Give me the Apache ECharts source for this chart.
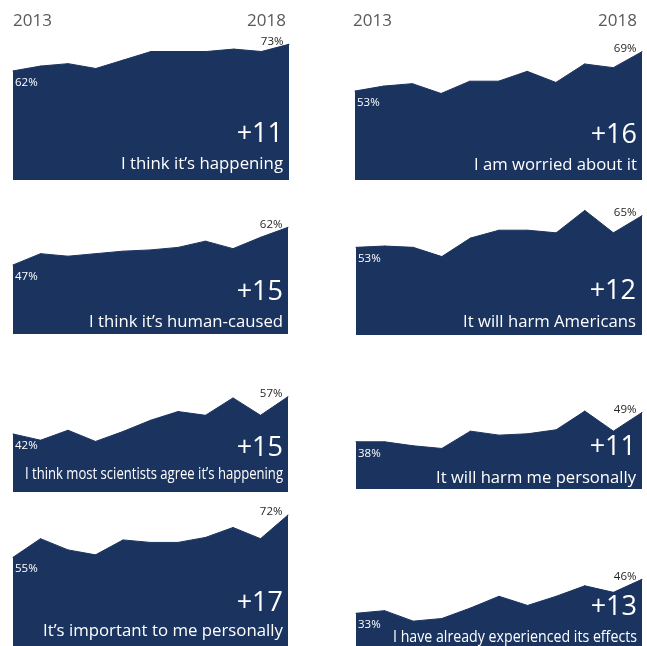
<!DOCTYPE html>
<html>
<head>
<meta charset="utf-8">
<style>
  html, body { margin: 0; padding: 0; background: #ffffff; }
  #chart { width: 647px; height: 646px; }
</style>
<script src="https://cdn.jsdelivr.net/npm/echarts@6/dist/echarts.min.js"></script>
</head>
<body>
<div id="chart"></div>
<script>
// ---- data ----
const waves = ['W1','W2','W3','W4','W5','W6','W7','W8','W9','W10','W11'];
const yearLabels = ['2013', '2018'];
const happening     = [62, 64, 65, 63, 66.5, 70, 70, 70, 71, 70, 73];
const worried       = [53, 55, 56, 52, 57, 57, 61, 56.5, 64, 62.5, 69];
const humanCaused   = [47, 51.5, 50.5, 51.5, 52.5, 53, 54, 56.5, 53.5, 58, 62];
const harmAmericans = [53, 53.5, 53, 49.5, 56.5, 59.5, 59.5, 58.5, 67, 58.5, 65];
const scientists    = [42, 39.5, 43.5, 39, 43, 47.5, 51, 49.5, 56.5, 49.5, 57];
const harmMe        = [38, 38, 36.5, 35.5, 42, 40.5, 41, 42.5, 49.5, 42, 49];
const important     = [55, 62.5, 58, 56, 62, 61, 61, 63, 67, 62.5, 72];
const experienced   = [33, 34, 30, 31, 35, 39.5, 36, 39.5, 43.5, 41, 46];
const descriptions = [
  'I think it\u2019s happening',
  'I am worried about it',
  'I think it\u2019s human-caused',
  'It will harm Americans',
  'I think most scientists agree it\u2019s happening',
  'It will harm me personally',
  'It\u2019s important to me personally',
  'I have already experienced its effects'
];
const seriesValues = [happening, worried, humanCaused, harmAmericans, scientists, harmMe, important, experienced];

// ---- layout (positions / scales only) ----
// left, right, top, bottom, pxPerPct, valueAtBottom, numberCenterY, descCenterY, textRight, descLeft
const layout = [
  [13, 289, 30, 180, 2.424, 17.0, 134.5, 164, 283, 121],
  [355, 642, 30, 180, 2.458, 16.8, 135, 165.5, 637, 474],
  [13, 288, 195, 334, 2.51, 19.5, 292.5, 322.5, 283, 89],
  [356, 642, 195, 335, 2.64, 19.8, 291, 322, 636, 463],
  [13, 288, 370, 492, 2.49, 18.7, 448, 474.5, 283, 25],
  [356, 642, 370, 489, 2.667, 20.3, 447, 478, 636, 436],
  [13, 288, 505, 646, 2.49, 19.4, 603.5, 631.5, 283, 43],
  [356, 642, 505, 646, 2.617, 20.5, 607.5, 637.5, 637, 393]
];
const NAVY = '#1b345f';
const FONT = '"Open Sans", "Noto Sans", sans-serif';
const DESC_FONT = '17px ' + FONT;

const measureCtx = document.createElement('canvas').getContext('2d');
measureCtx.font = DESC_FONT;

const grids = [], xAxes = [], yAxes = [], series = [], graphics = [];
layout.forEach((L, i) => {
  const [left, right, top, bottom, s, vb] = L;
  const h = bottom - top;
  grids.push({ left: left, top: top, width: right - left, height: h });
  xAxes.push({ type: 'category', gridIndex: i, data: waves, boundaryGap: false, show: false });
  yAxes.push({ type: 'value', gridIndex: i, min: vb, max: vb + h / s, show: false });
  const vals = seriesValues[i];
  const last = vals.length - 1;
  series.push({
    type: 'line', xAxisIndex: i, yAxisIndex: i, silent: true,
    symbol: 'circle', symbolSize: 1, showSymbol: true,
    itemStyle: { color: NAVY },
    lineStyle: { color: NAVY, width: 1 },
    areaStyle: { color: NAVY, opacity: 1, origin: 'start' },
    label: { show: false, fontFamily: FONT, fontSize: 11.5, formatter: p => p.value + '%' },
    data: vals.map((v, j) => {
      if (j === 0) return { value: v, label: { show: true, position: 'bottom', align: 'left', color: '#ffffff', distance: 5, offset: [2, 0] } };
      if (j === last) return { value: v, label: { show: true, position: 'left', color: '#262626', distance: 5, offset: [0, -3] } };
      return { value: v };
    })
  });
  const diff = vals[last] - vals[0];
  graphics.push({
    type: 'text', x: L[8], y: L[6], silent: true, z: 100,
    style: { text: (diff >= 0 ? '+' : '') + diff, fill: '#ffffff', font: '27px ' + FONT, align: 'right', verticalAlign: 'middle' }
  });
  const w = measureCtx.measureText(descriptions[i]).width;
  const target = L[8] - L[9];
  const sx = Math.min(1.02, target / w);
  graphics.push({
    type: 'text', x: L[8], y: L[7], silent: true, z: 100, scaleX: sx,
    style: { text: descriptions[i], fill: '#ffffff', font: DESC_FONT, align: 'right', verticalAlign: 'middle' }
  });
});
// year labels on top row
[[13, 286], [353, 637]].forEach(([l, r]) => {
  graphics.push({ type: 'text', x: l, y: 21, silent: true, z: 100,
    style: { text: yearLabels[0], fill: '#595959', font: '17px ' + FONT, align: 'left', verticalAlign: 'middle' } });
  graphics.push({ type: 'text', x: r, y: 21, silent: true, z: 100,
    style: { text: yearLabels[1], fill: '#595959', font: '17px ' + FONT, align: 'right', verticalAlign: 'middle' } });
});

const chart = echarts.init(document.getElementById('chart'), null, { renderer: 'canvas' });
chart.setOption({
  animation: false,
  backgroundColor: '#ffffff',
  grid: grids, xAxis: xAxes, yAxis: yAxes, series: series,
  graphic: { z: 100, elements: graphics }
});
</script>
</body>
</html>
